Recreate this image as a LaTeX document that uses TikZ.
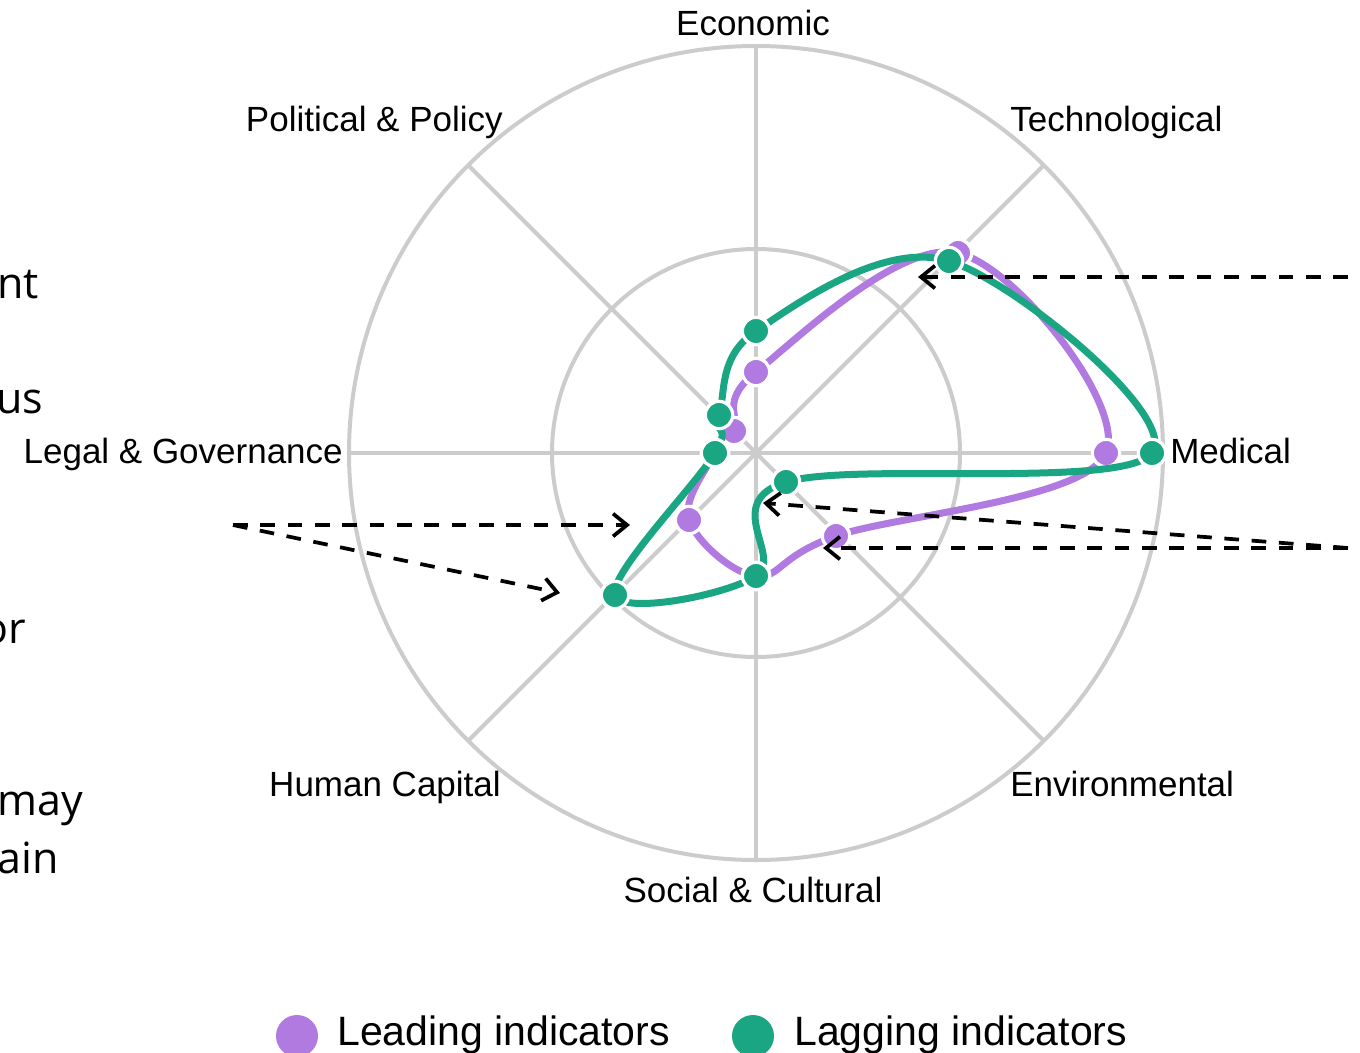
\documentclass[tikz,border=0pt]{standalone}
\usepackage{fontspec}
\setmainfont{Liberation Sans}
\newfontfamily\fragfont{Open Sans}
\usetikzlibrary{arrows.meta}
\definecolor{gridgray}{HTML}{CCCCCC}
\definecolor{leadc}{HTML}{B07AE0}
\definecolor{lagc}{HTML}{1AA682}
\begin{document}
\begin{tikzpicture}[x=0.75pt,y=-0.75pt,
  grid/.style={draw=gridgray,line width=3pt},
  axlabel/.style={inner sep=0pt,font=\fontsize{26.25}{30}\selectfont,text=black},
  fragtext/.style={inner sep=0pt,font=\fragfont\fontsize{32.25}{38}\selectfont,text=black},
  leadline/.style={draw=leadc,line width=5.25pt},
  lagline/.style={draw=lagc,line width=5.25pt},
  leaddot/.style={circle,fill=leadc,draw=white,line width=2.4pt,inner sep=0pt,minimum size=20.5pt},
  lagdot/.style={circle,fill=lagc,draw=white,line width=2.4pt,inner sep=0pt,minimum size=20.5pt},
  dasharrow/.style={draw=black,line width=2.8pt,dash pattern=on 11pt off 9.5pt,-{Straight Barb[length=10.5pt,width=17pt]}},
  legdot/.style={circle,inner sep=0pt,minimum size=31.5pt},
  legtext/.style={inner sep=0pt,font=\fontsize{30.75}{36}\selectfont,text=black}
]
\useasboundingbox (0,0) rectangle (1360,1053);
\clip (0,0) rectangle (1360,1053);

% grid
\coordinate (C) at (756,453);
\draw[grid] (C) circle[radius=204];
\draw[grid] (C) circle[radius=407];
\foreach \a in {0,45,...,315} { \draw[grid] (C) -- ++(\a:407); }

% axis labels
\node[axlabel,anchor=base] (econ) at (753,36) {Economic};
\node[axlabel,anchor=base west] (tech) at (1010,131) {Technological};
\node[axlabel,anchor=base west] (med) at (1170,463) {Medical};
\node[axlabel,anchor=base west] (env) at (1010,796) {Environmental};
\node[axlabel,anchor=base] (soc) at (753,902) {Social \& Cultural};
\node[axlabel,anchor=base east] (hum) at (501,796) {Human Capital};
\node[axlabel,anchor=base east] (legal) at (343,463) {Legal \& Governance};
\node[axlabel,anchor=base east] (pol) at (503,131) {Political \& Policy};

% left text fragments
\node[fragtext,anchor=base west] (f1) at (-3,298) {nt};
\node[fragtext,anchor=base west] (f2) at (-4,413) {us};
\node[fragtext,anchor=base west] (f3) at (-18,643) {or};
\node[fragtext,anchor=base west] (f4) at (-3,815) {may};
\node[fragtext,anchor=base west] (f5) at (-3,873) {ain};

% leading series
\coordinate (L1) at (756,372);
\coordinate (L2) at (958,253);
\coordinate (L3) at (1106,453);
\coordinate (L4) at (836,536);
\coordinate (L5) at (756,576);
\coordinate (L6) at (689,520);
\coordinate (L7) at (715,453);
\coordinate (L8) at (734,431);
\draw[leadline] plot[smooth cycle,tension=0.6] coordinates {(L1) (L2) (L3) (L4) (L5) (L6) (L7) (L8)};
\foreach \i in {1,...,8} { \node[leaddot] (L\i d) at (L\i) {}; }

% lagging series
\coordinate (G1) at (756,331);
\coordinate (G2) at (949,261);
\coordinate (G3) at (1152,453);
\coordinate (G4) at (786,482);
\coordinate (G5) at (756,576);
\coordinate (G6) at (615,595);
\coordinate (G7) at (715,453);
\coordinate (G8) at (719,415);
\draw[lagline] plot[smooth cycle,tension=0.6] coordinates {(G1) (G2) (G3) (G4) (G5) (G6) (G7) (G8)};
\foreach \i in {1,...,8} { \node[lagdot] (G\i d) at (G\i) {}; }

% dashed arrows
\coordinate (rA) at (1348,277);
\coordinate (tA) at (918,277);
\coordinate (rB) at (1348,548);
\coordinate (tB) at (763,503);
\coordinate (tC) at (823,548);
\coordinate (lA) at (233,525);
\coordinate (tD) at (630,525);
\coordinate (tE) at (560,593);
\draw[dasharrow] (rA) -- (tA);
\draw[dasharrow] (rB) -- (tB);
\draw[dasharrow] (rB) -- (tC);
\draw[dasharrow] (lA) -- (tD);
\draw[dasharrow] (lA) -- (tE);

% legend
\node[legdot,fill=leadc] (legLd) at (297,1036) {};
\node[legtext,anchor=base west] (legLt) at (337,1045) {Leading indicators};
\node[legdot,fill=lagc] (legGd) at (753,1036) {};
\node[legtext,anchor=base west] (legGt) at (794,1045) {Lagging indicators};
\end{tikzpicture}
\end{document}
